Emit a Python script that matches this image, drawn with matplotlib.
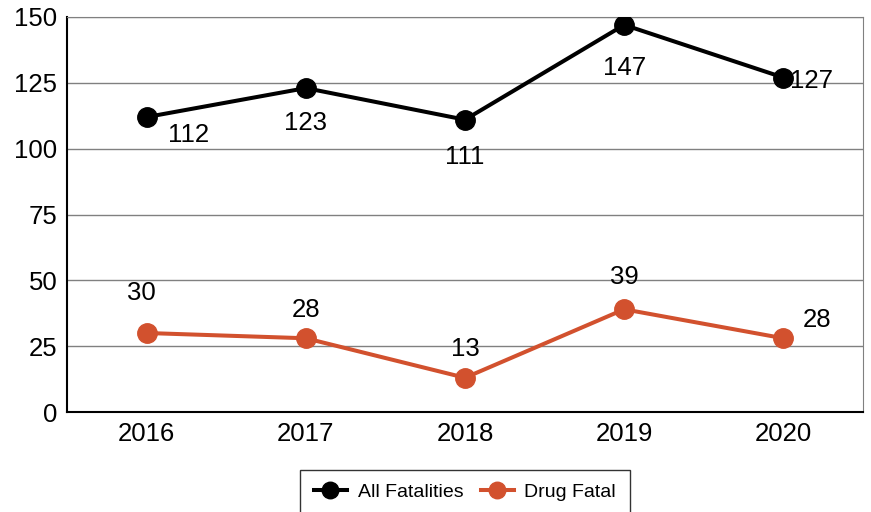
import matplotlib
matplotlib.use("Agg")
import matplotlib.pyplot as plt

plt.rcParams['font.family'] = ['Liberation Sans', 'DejaVu Sans']

years = ["2016", "2017", "2018", "2019", "2020"]
all_fatalities = [112, 123, 111, 147, 127]
drug_fatal = [30, 28, 13, 39, 28]

# label offsets in pixels (dx, dy)
all_offsets = [(42, -18), (0, -35), (0, -37), (0, -43), (28, -3)]
drug_offsets = [(-5, 40), (0, 28), (0, 29), (0, 32), (34, 18)]

black = "#000000"
orange = "#D2512E"

fig = plt.figure(figsize=(8.71, 5.12), dpi=100)
ax = fig.add_axes([67/871, 100/512, 796/871, 395/512])

x = list(range(len(years)))
ax.plot(x, all_fatalities, color=black, lw=2.9, marker='o', ms=14, label="All Fatalities", zorder=3)
ax.plot(x, drug_fatal, color=orange, lw=2.9, marker='o', ms=14, label="Drug Fatal", zorder=3)

for xi, v, (dx, dy) in zip(x, all_fatalities, all_offsets):
    ax.annotate(str(v), (xi, v), xytext=(dx, dy), textcoords='offset pixels',
                ha='center', va='center', fontsize=18.5, color='black', zorder=4)
for xi, v, (dx, dy) in zip(x, drug_fatal, drug_offsets):
    ax.annotate(str(v), (xi, v), xytext=(dx, dy), textcoords='offset pixels',
                ha='center', va='center', fontsize=18.5, color='black', zorder=4)

ax.set_xlim(-0.5, len(years) - 0.5)
ax.set_ylim(0, 150)
ax.set_yticks([0, 25, 50, 75, 100, 125, 150])
ax.set_xticks(x)
ax.set_xticklabels(years)
ax.tick_params(axis='both', length=0, labelsize=18.5, pad=7)
ax.yaxis.grid(True, color='#808080', lw=1)
ax.set_axisbelow(True)
ax.spines['left'].set_color('black')
ax.spines['left'].set_linewidth(1.5)
ax.spines['bottom'].set_color('black')
ax.spines['bottom'].set_linewidth(1.5)
ax.spines['top'].set_color('#808080')
ax.spines['right'].set_color('#808080')

leg = ax.legend(loc='upper center', bbox_to_anchor=(0.5, -0.147), ncol=2, fontsize=14,
                frameon=True, fancybox=False, edgecolor='black', handlelength=1.7,
                borderpad=0.7, borderaxespad=0, columnspacing=0.9, handletextpad=0.55,
                markerscale=0.85)
leg.get_frame().set_linewidth(1.0)

fig.savefig("out.png", dpi=100)
